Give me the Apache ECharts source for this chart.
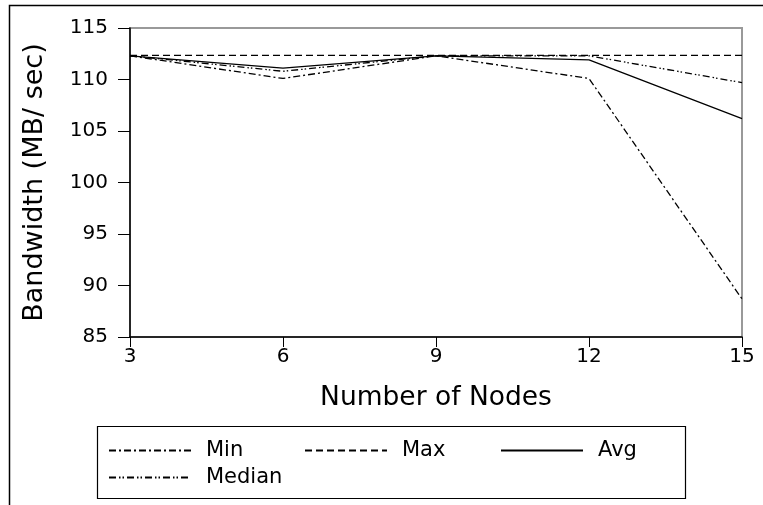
<!DOCTYPE html>
<html>
<head>
<meta charset="utf-8">
<script src="https://cdn.jsdelivr.net/npm/echarts@6/dist/echarts.min.js"></script>
<style>
  html, body { margin: 0; padding: 0; background: #fff; }
  #chart { width: 763px; height: 505px; }
</style>
</head>
<body>
<div id="chart"></div>
<script>
const nodes = [3, 6, 9, 12, 15]
const minBw = [112.3, 110.1, 112.3, 110.1, 88.7]
const maxBw = [112.35, 112.35, 112.35, 112.35, 112.35]
const avgBw = [112.3, 111.1, 112.3, 111.9, 106.2]
const medianBw = [112.3, 110.8, 112.3, 112.3, 109.7]
const yTicks = [85, 90, 95, 100, 105, 110, 115]

const font = 'DejaVu Sans'
const chart = echarts.init(document.getElementById('chart'))

const mkSeries = (name, values, dash) => ({
  name,
  type: 'line',
  data: nodes.map((n, i) => [n, values[i]]),
  symbol: 'none',
  color: '#000',
  lineStyle: { color: '#000', width: 1.3, type: dash },
  animation: false
})

const option = {
  backgroundColor: '#fff',
  animation: false,
  grid: {
    left: 130,
    right: 21,
    top: 28,
    bottom: 168,
    show: true,
    borderColor: '#999',
    borderWidth: 2
  },
  xAxis: {
    type: 'value',
    min: nodes[0],
    max: nodes[nodes.length - 1],
    interval: 3,
    name: 'Number of Nodes',
    nameLocation: 'middle',
    nameGap: 48,
    nameTextStyle: { fontFamily: font, fontSize: 26.5, color: '#000' },
    axisLine: { lineStyle: { color: '#000', width: 1.5 } },
    axisTick: { length: 10, lineStyle: { color: '#000' } },
    axisLabel: { margin: 10, fontFamily: font, fontSize: 20, color: '#000' },
    splitLine: { show: false }
  },
  yAxis: {
    type: 'value',
    min: yTicks[0],
    max: yTicks[yTicks.length - 1],
    interval: 5,
    name: 'Bandwidth (MB/ sec)',
    nameLocation: 'middle',
    nameGap: 82,
    nameTextStyle: { fontFamily: font, fontSize: 27, color: '#000' },
    axisLine: { show: true, lineStyle: { color: '#000', width: 1.5 } },
    axisTick: { show: true, length: 12, lineStyle: { color: '#000' } },
    axisLabel: { margin: 22, fontFamily: font, fontSize: 20, color: '#000' },
    splitLine: { show: false }
  },
  legend: {
    left: 108,
    top: 440,
    width: 600,
    padding: 0,
    itemWidth: 82,
    itemHeight: 14,
    itemGap: 6,
    itemStyle: { opacity: 0 },
    textStyle: {
      fontFamily: font,
      fontSize: 21,
      color: '#000',
      width: 92,
      lineHeight: 21,
      padding: [0, 0, 0, 10]
    },
    data: ['Min', 'Max', 'Avg', 'Median']
  },
  graphic: [
    {
      type: 'rect',
      shape: { x: 9.5, y: 5.5, width: 800, height: 600 },
      style: { fill: null, stroke: '#000', lineWidth: 1.5 },
      silent: true
    },
    {
      type: 'rect',
      shape: { x: 97.5, y: 426.5, width: 588, height: 72 },
      style: { fill: null, stroke: '#000', lineWidth: 1.2 },
      silent: true
    }
  ],
  series: [
    mkSeries('Min', minBw, [7, 3, 2, 3]),
    mkSeries('Max', maxBw, [7, 4]),
    mkSeries('Avg', avgBw, 'solid'),
    mkSeries('Median', medianBw, [7, 3, 1.5, 2, 1.5, 3])
  ]
}

chart.setOption(option)
</script>
</body>
</html>
